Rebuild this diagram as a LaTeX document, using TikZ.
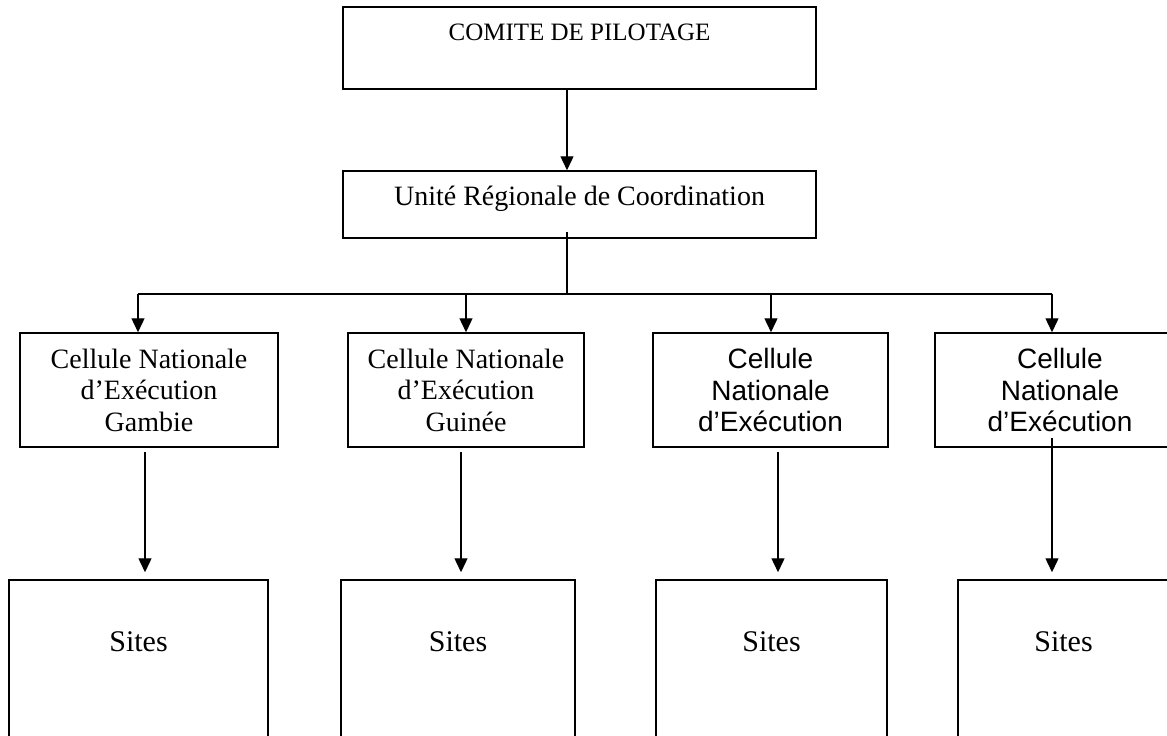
\documentclass[tikz,border=0pt]{standalone}
\usepackage{fontspec}
\setmainfont{Liberation Serif}
\newfontfamily\arialfont{Liberation Sans}
\usetikzlibrary{arrows.meta}
\tikzset{
  box/.style={draw, line width=1.5pt, inner sep=0pt, align=center},
  txt/.style={font=\fontsize{28pt}{31.5pt}\selectfont},
  txtsans/.style={font=\arialfont\fontsize{28pt}{31.5pt}\selectfont},
  arr/.style={line width=1.4pt, -{Triangle[length=14pt,width=13pt]}},
  wire/.style={line width=1.4pt}
}
\begin{document}
\begin{tikzpicture}[x=1pt, y=-1pt]
\clip (0,0) rectangle (1167,736);
% pilotage and coordination
\node[box, minimum width=473pt, minimum height=82pt,
  label={[anchor=north, yshift=-17pt, inner sep=0pt, font=\fontsize{25pt}{28pt}\selectfont]north:COMITE DE PILOTAGE}] (comite) at (579.5,48) {};
\node[box, txt, minimum width=473pt, minimum height=67pt, text depth=18pt] (urc) at (579.5,204.5) {Unité Régionale de Coordination};

% cellules nationales
\node[box, txt, minimum width=258pt, minimum height=114pt] (cne1) at (149,390) {Cellule Nationale\\d’Exécution\\Gambie};
\node[box, txt, minimum width=236pt, minimum height=114pt] (cne2) at (466,390) {Cellule Nationale\\d’Exécution\\Guinée};
\node[box, txtsans, minimum width=235pt, minimum height=114pt] (cne3) at (770.5,390) {Cellule\\Nationale\\d’Exécution};
\node[box, txtsans, minimum width=250pt, minimum height=114pt] (cne4) at (1060,390) {Cellule\\Nationale\\d’Exécution};

% sites
\foreach \i/\x/\w in {1/138.5/259, 2/458/234, 3/771.5/231, 4/1063.5/211}{
  \node[box, minimum width=\w pt, minimum height=165pt,
    label={[anchor=north, yshift=-52pt, inner sep=0pt, font=\fontsize{30pt}{34pt}\selectfont]north:Sites}] (site\i) at (\x,662.5) {};
}

% connectors
\coordinate (trunk) at (567,294);
\draw[arr] (comite.south -| trunk) -- (urc.north -| trunk);
\draw[wire] ([yshift=7pt]trunk |- urc.south) -- (trunk);
\foreach \i/\ux/\lx/\ly in {1/138/145/452, 2/466/461/452, 3/771/778/452, 4/1052/1052/438}{
  \coordinate (in\i) at (\ux,294);
  \coordinate (out\i) at (\lx,\ly);
  \draw[arr] (in\i) -- (in\i |- cne\i.north);
  \draw[arr, shorten >=7pt] (out\i) -- (out\i |- site\i.north);
}
\draw[wire] (in1) -- (in4);
\end{tikzpicture}
\end{document}
